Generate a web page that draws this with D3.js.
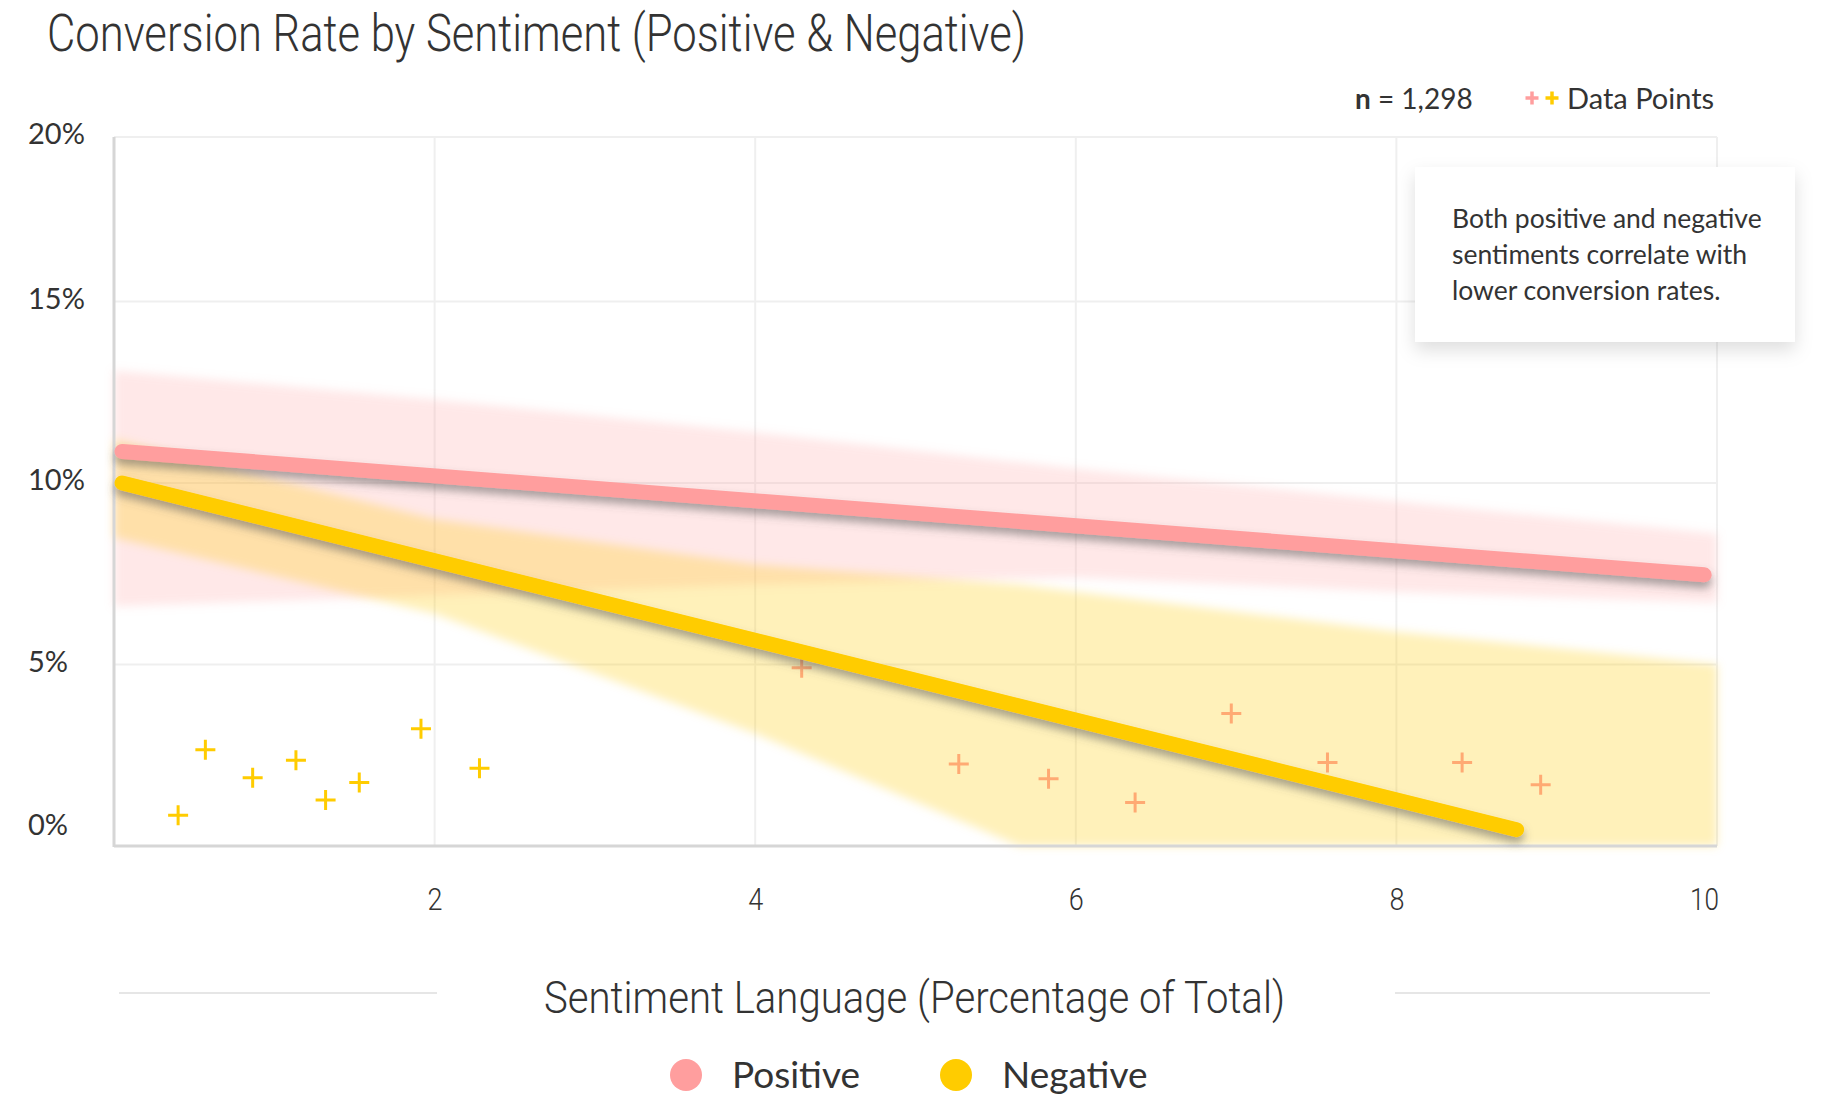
<!DOCTYPE html>
<html><head><meta charset="utf-8">
<script src="https://cdn.jsdelivr.net/npm/d3@7"></script>
<style>body{margin:0;background:#fff}svg{display:block}</style>
</head><body>
<svg id="c" width="1834" height="1108"></svg>
<script>
// ---------- data ----------
const titleText = "Conversion Rate by Sentiment (Positive & Negative)";
const xTitle = "Sentiment Language (Percentage of Total)";
const series = ["Positive", "Negative"];
const seriesColors = ["#ff9e9e", "#ffcc00"];
const xTicks = [2, 4, 6, 8, 10];
const yTicks = [0, 5, 10, 15, 20];
const yTickLabels = ["0%", "5%", "10%", "15%", "20%"];
const sampleSize = "1,298";
const noteLines = ["Both positive and negative", "sentiments correlate with", "lower conversion rates."];

// trend lines (x, conversion %)
const posTrendX = [0.05, 9.92];
const posTrendY = [10.87, 7.47];
const negTrendX = [0.05, 8.75];
const negTrendY = [10.0, 0.45];

// confidence bands
const posBandX = [0, 2, 4, 6, 8, 10];
const posBandHi = [13.1, 12.3, 11.4, 10.4, 9.5, 8.6];
const posBandLo = [6.6, 6.9, 7.2, 7.4, 7.0, 6.7];
const negBandX = [0, 2, 4, 5.65, 8, 10];
const negBandHi = [11.2, 9.0, 7.75, 7.2, 5.9, 5.0];
const negBandLo = [8.5, 6.4, 3.1, 0, 0, 0];

// data points
const posPointsX = [4.29, 5.27, 5.83, 6.37, 6.97, 7.57, 8.41, 8.90];
const posPointsY = [4.91, 2.26, 1.85, 1.20, 3.65, 2.30, 2.30, 1.69];
const negPointsX = [0.40, 0.57, 0.865, 1.135, 1.32, 1.53, 1.915, 2.28];
const negPointsY = [0.85, 2.65, 1.88, 2.36, 1.27, 1.75, 3.23, 2.14];

// ---------- layout ----------
const L = 114, R = 1717, T = 137, B = 846;
const x = d3.scaleLinear().domain([0, 10]).range([L, R]);
const y = d3.scaleLinear().domain([0, 20]).range([B, 120]);
const textCol = "#333";
const sans = "Lato, 'Open Sans', sans-serif";
const cond = "Roboto, sans-serif";

const svg = d3.select("#c");
const defs = svg.append("defs");
defs.append("filter").attr("id", "blur")
  .attr("x", "-10%").attr("y", "-20%").attr("width", "120%").attr("height", "140%")
  .append("feGaussianBlur").attr("stdDeviation", 5);
defs.append("filter").attr("id", "lineShadow")
  .attr("x", "-5%").attr("y", "-30%").attr("width", "110%").attr("height", "160%")
  .append("feDropShadow").attr("dx", 0).attr("dy", 6).attr("stdDeviation", 4)
  .attr("flood-color", "#555").attr("flood-opacity", 0.5);
defs.append("filter").attr("id", "boxShadow")
  .attr("x", "-20%").attr("y", "-20%").attr("width", "140%").attr("height", "150%")
  .append("feDropShadow").attr("dx", 0).attr("dy", 8).attr("stdDeviation", 9)
  .attr("flood-color", "#000").attr("flood-opacity", 0.13);

// ---------- grid ----------
const grid = svg.append("g").attr("stroke", "#efefef").attr("stroke-width", 2);
grid.selectAll("line.v").data(xTicks).join("line").attr("class", "v")
  .attr("x1", d => x(d)).attr("x2", d => x(d)).attr("y1", T).attr("y2", B);
grid.selectAll("line.h").data(yTicks.filter(v => v > 0 && v < 20)).join("line").attr("class", "h")
  .attr("x1", L).attr("x2", R).attr("y1", d => y(d)).attr("y2", d => y(d));
grid.append("line").attr("x1", L).attr("x2", R).attr("y1", T).attr("y2", T);

// ---------- points ----------
const plus = "M-10,0H10M0,-10V10";
const posPts = posPointsX.map((v, i) => ({x: v, y: posPointsY[i]}));
const negPts = negPointsX.map((v, i) => ({x: v, y: negPointsY[i]}));
svg.append("g").selectAll("path").data(posPts).join("path")
  .attr("d", plus).attr("transform", d => `translate(${x(d.x)},${y(d.y)})`)
  .attr("stroke", seriesColors[0]).attr("stroke-width", 3).attr("fill", "none");
svg.append("g").selectAll("path").data(negPts).join("path")
  .attr("d", plus).attr("transform", d => `translate(${x(d.x)},${y(d.y)})`)
  .attr("stroke", seriesColors[1]).attr("stroke-width", 3).attr("fill", "none");

// ---------- bands ----------
const area = d3.area().x(d => x(d.x)).y0(d => y(d.lo)).y1(d => y(d.hi));
const posBand = posBandX.map((v, i) => ({x: v, lo: posBandLo[i], hi: posBandHi[i]}));
const negBand = negBandX.map((v, i) => ({x: v, lo: negBandLo[i], hi: negBandHi[i]}));
svg.append("path").datum(posBand).attr("d", area)
  .attr("fill", "rgba(255,158,158,0.24)").attr("filter", "url(#blur)");
svg.append("path").datum(negBand).attr("d", area)
  .attr("fill", "rgba(255,204,0,0.27)").attr("filter", "url(#blur)");

// ---------- axes lines ----------
svg.append("line").attr("x1", L).attr("x2", L).attr("y1", T).attr("y2", B + 1)
  .attr("stroke", "#d6d6d6").attr("stroke-width", 3);
svg.append("line").attr("x1", L).attr("x2", R).attr("y1", B).attr("y2", B)
  .attr("stroke", "#d6d6d6").attr("stroke-width", 3);

// ---------- trend lines ----------
const line = d3.line().x(d => x(d.x)).y(d => y(d.y));
const trends = [
  posTrendX.map((v, i) => ({x: v, y: posTrendY[i]})),
  negTrendX.map((v, i) => ({x: v, y: negTrendY[i]}))
];
svg.append("g").selectAll("path").data(trends).join("path")
  .attr("d", line).attr("fill", "none")
  .attr("stroke", (d, i) => seriesColors[i]).attr("stroke-width", 15)
  .attr("stroke-linecap", "round").attr("filter", "url(#lineShadow)");

// ---------- annotation ----------
svg.append("rect").attr("x", 1415).attr("y", 167).attr("width", 380).attr("height", 175)
  .attr("fill", "#fff").attr("filter", "url(#boxShadow)");
svg.append("g").selectAll("text").data(noteLines).join("text")
  .attr("x", 1452).attr("y", (d, i) => 228 + i * 36)
  .attr("font-family", sans).attr("font-size", 26.5).attr("fill", textCol)
  .text(d => d);

// ---------- y labels ----------
svg.append("g").selectAll("text").data(yTicks).join("text")
  .attr("x", 28).attr("y", d => Math.min(Math.max(y(d), T), 828) - 3)
  .attr("dy", "0.35em")
  .attr("font-family", sans).attr("font-size", 29).attr("fill", textCol)
  .text((d, i) => yTickLabels[i]);

// ---------- x labels ----------
const xl = svg.append("g").attr("transform", `translate(0,${B})`)
  .call(d3.axisBottom(x).tickValues(xTicks).tickSize(0).tickPadding(42).tickFormat(d3.format("d")));
xl.select(".domain").remove();
xl.selectAll("text").attr("font-family", cond).attr("font-weight", 300)
  .attr("font-size", 31).attr("fill", textCol)
  .attr("textLength", d => d >= 10 ? 29 : 15).attr("lengthAdjust", "spacingAndGlyphs")
  .attr("x", d => d >= 10 ? -13 : 0);

// ---------- title ----------
svg.append("text").attr("x", 47).attr("y", 51)
  .attr("font-family", cond).attr("font-weight", 300).attr("font-size", 52)
  .attr("fill", textCol).attr("textLength", 979).attr("lengthAdjust", "spacingAndGlyphs")
  .text(titleText);

// ---------- x title + separators ----------
svg.append("text").attr("x", 544).attr("y", 1013)
  .attr("font-family", cond).attr("font-weight", 300).attr("font-size", 44)
  .attr("fill", textCol).attr("textLength", 741).attr("lengthAdjust", "spacingAndGlyphs")
  .text(xTitle);
svg.append("line").attr("x1", 119).attr("x2", 437).attr("y1", 993).attr("y2", 993)
  .attr("stroke", "#e6e6e6").attr("stroke-width", 2);
svg.append("line").attr("x1", 1395).attr("x2", 1710).attr("y1", 993).attr("y2", 993)
  .attr("stroke", "#e6e6e6").attr("stroke-width", 2);

// ---------- header ----------
const nt = svg.append("text").attr("x", 1355).attr("y", 109)
  .attr("font-family", sans).attr("font-size", 28).attr("fill", textCol);
nt.append("tspan").attr("font-weight", 700).text("n");
nt.append("tspan").text(" = " + sampleSize);
const smallPlus = "M-6.5,0H6.5M0,-6.5V6.5";
svg.append("g").selectAll("path").data(seriesColors).join("path")
  .attr("d", smallPlus).attr("transform", (d, i) => `translate(${1532 + i * 20},98)`)
  .attr("stroke", d => d).attr("stroke-width", 3.5).attr("fill", "none");
svg.append("text").attr("x", 1567).attr("y", 109)
  .attr("font-family", sans).attr("font-size", 29).attr("fill", textCol)
  .text("Data Points");

// ---------- legend ----------
const legX = [686, 956];
const lg = svg.append("g").selectAll("g").data(series).join("g")
  .attr("transform", (d, i) => `translate(${legX[i]},1075)`);
lg.append("circle").attr("r", 16).attr("fill", (d, i) => seriesColors[i]);
lg.append("text").attr("x", 46).attr("y", 13)
  .attr("font-family", sans).attr("font-size", 37).attr("fill", textCol)
  .text(d => d);
</script>
</body></html>
